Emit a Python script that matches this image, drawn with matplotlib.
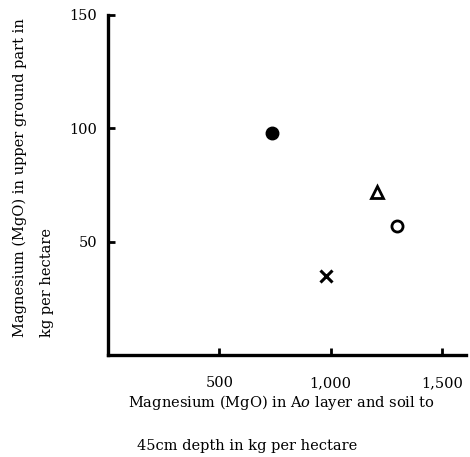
import matplotlib
matplotlib.use("Agg")
import matplotlib.pyplot as plt

# Mg in Ao layer + soil (kg/ha) vs Mg in upper ground part (kg/ha)
soil_mg = [735, 980, 1210, 1300]
plant_mg = [98, 35, 72, 57]
markers = ["o", "x", "^", "o"]
filled = [True, True, False, False]

x_ticks = [500, 1000, 1500]
x_tick_labels = ["500", "1,000", "1,500"]
y_ticks = [50, 100, 150]
y_tick_labels = ["50", "100", "150"]

plt.rcParams["font.family"] = "DejaVu Serif"
plt.rcParams["mathtext.fontset"] = "dejavuserif"

W, H = 470, 457
fig = plt.figure(figsize=(W / 100, H / 100), dpi=100)
ax = fig.add_axes([0.230, 0.223, 0.762, 0.745])

for x, y, m, f in zip(soil_mg, plant_mg, markers, filled):
    if m == "x":
        ax.plot(x, y, marker="x", ms=9, mew=2.2, color="black", ls="none")
    elif f:
        ax.plot(x, y, marker=m, ms=9, color="black", ls="none")
    else:
        ax.plot(x, y, marker=m, ms=8, mfc="white", mec="black", mew=2, ls="none")

ax.set_xlim(0, 1610)
ax.set_ylim(0, 150)

ax.spines["top"].set_visible(False)
ax.spines["right"].set_visible(False)
ax.spines["left"].set_linewidth(2.4)
ax.spines["bottom"].set_linewidth(2.4)

ax.set_xticks(x_ticks)
ax.set_xticklabels(x_tick_labels)
ax.set_yticks(y_ticks)
ax.set_yticklabels(y_tick_labels)
ax.tick_params(axis="x", direction="in", length=5, width=2, pad=15, labelsize=10.5)
ax.tick_params(axis="y", direction="in", length=5, width=2, pad=8, labelsize=10.5)

# axis titles placed by hand (two-line, left aligned, as in the scan)
fig.text(128 / W, 1 - 402 / H, "Magnesium (MgO) in A$\\it{o}$ layer and soil to",
         fontsize=10.5, ha="left", va="center")
fig.text(137 / W, 1 - 446 / H, "45cm depth in kg per hectare",
         fontsize=10.5, ha="left", va="center")
fig.text(20 / W, 1 - 337 / H, "Magnesium (MgO) in upper ground part in",
         fontsize=10.5, rotation=90, ha="center", va="bottom")
fig.text(47 / W, 1 - 337 / H, "kg per hectare",
         fontsize=10.5, rotation=90, ha="center", va="bottom")

fig.savefig("out.png", dpi=100)
